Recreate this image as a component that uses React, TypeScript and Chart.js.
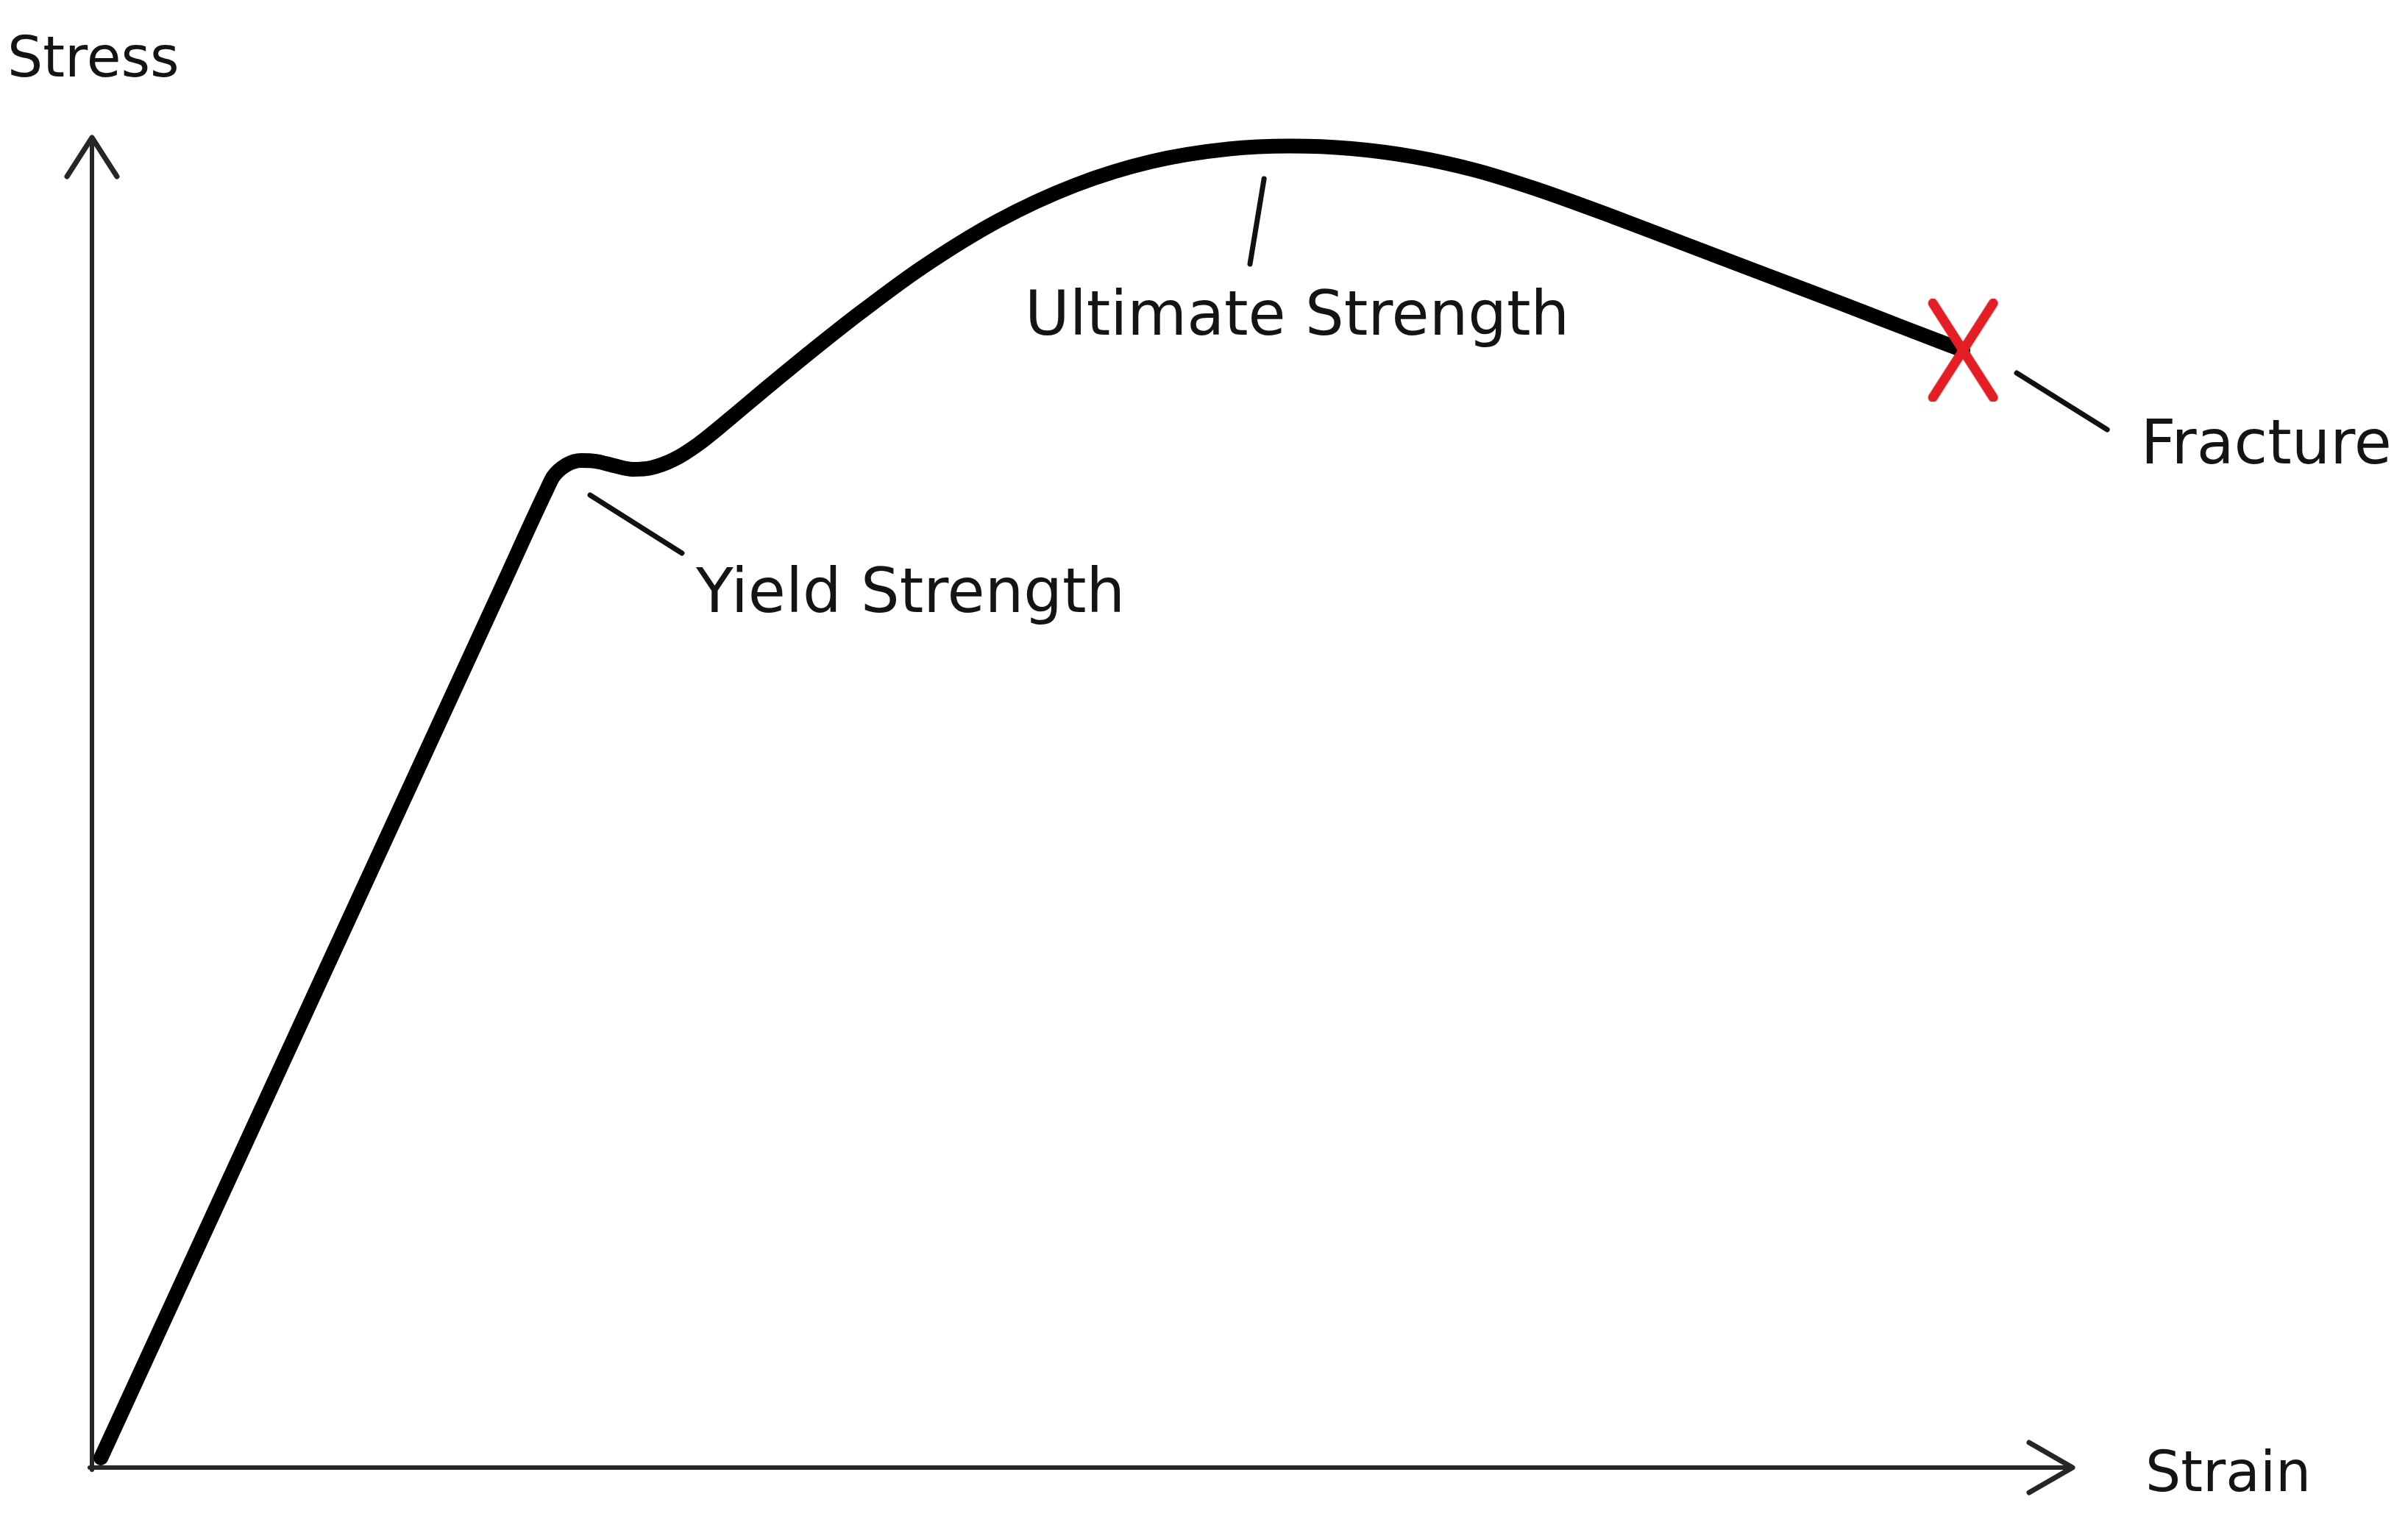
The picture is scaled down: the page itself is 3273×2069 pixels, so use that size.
import React, { useEffect, useRef } from "react";
import { Chart, registerables } from "chart.js";

Chart.register(...registerables);

// ---- Data (relative units: 0..100 on each axis) ----
const strainValues = [
  0.45, 11.68, 20.67, 22.92, 23.29, 23.96, 24.7, 25.45, 26.37, 27.3, 28.23, 29.35, 30.65,
  32.27, 34.13, 36.45, 38.78, 41.88, 45.76, 49.64, 53.51, 57.39, 60.49, 63.59, 66.69,
  69.8, 72.9, 76.78, 80.65, 84.53, 88.41, 91.51, 94.47,
];
const stressValues = [
  0.72, 37.06, 66.13, 73.4, 74.5, 75.39, 75.72, 75.66, 75.33, 75.06, 75.17, 75.77, 76.99,
  78.94, 81.26, 84.09, 86.82, 90.2, 93.75, 96.42, 98.2, 99.14, 99.36, 99.17, 98.57,
  97.56, 96.14, 94.06, 91.87, 89.67, 87.48, 85.69, 84.0,
];

const fractureStrain = [94.47];
const fractureStress = [84.0];

const pointLabels = ["Yield Strength", "Ultimate Strength", "Fracture"];
const leaderFromStrain = [25.15, 59.18, 97.18];
const leaderFromStress = [73.12, 96.9, 82.3];
const leaderToStrain = [29.79, 58.47, 101.75];
const leaderToStress = [68.75, 90.49, 78.04];
const labelStrain = [30.5, 47.1, 103.45];
const labelStress = [64.32, 85.18, 75.5];

const axisTitles = ["Stress", "Strain"];
const axisTitleStrain = [-4.27, 103.68];
const axisTitleStress = [104.6, -1.77];

// ---- Styles ----
const W = 3273;
const H = 2069;
const LABEL_FONT = "83px 'DejaVu Sans', Verdana, sans-serif";
const TITLE_FONT = "76px 'DejaVu Sans', Verdana, sans-serif";
const TEXT_COLOR = "#141414";
const AXIS_COLOR = "#262626";

function makeCross(): HTMLCanvasElement {
  const c = document.createElement("canvas");
  c.width = 100;
  c.height = 140;
  const g = c.getContext("2d")!;
  g.strokeStyle = "#e31e24";
  g.lineWidth = 13;
  g.lineCap = "round";
  g.beginPath();
  g.moveTo(9, 6);
  g.lineTo(91, 134);
  g.moveTo(91, 6);
  g.lineTo(9, 134);
  g.stroke();
  return c;
}

const diagramPlugin = {
  id: "diagram",
  beforeDatasetsDraw(chart: any) {
    const { ctx, scales } = chart;
    const xs = scales.x;
    const ys = scales.y;
    const x0 = xs.getPixelForValue(0);
    const y0 = ys.getPixelForValue(0);
    const xEnd = xs.getPixelForValue(100);
    const yEnd = ys.getPixelForValue(100);
    ctx.save();
    ctx.strokeStyle = AXIS_COLOR;
    ctx.lineWidth = 6;
    ctx.lineCap = "round";
    ctx.lineJoin = "round";
    ctx.beginPath();
    ctx.moveTo(x0, y0 + 3);
    ctx.lineTo(x0, yEnd);
    ctx.moveTo(x0 - 3, y0);
    ctx.lineTo(xEnd, y0);
    ctx.stroke();
    ctx.lineWidth = 7;
    ctx.beginPath();
    ctx.moveTo(x0 - 34, yEnd + 53);
    ctx.lineTo(x0, yEnd);
    ctx.lineTo(x0 + 34, yEnd + 53);
    ctx.stroke();
    ctx.beginPath();
    ctx.moveTo(xEnd - 59, y0 - 34);
    ctx.lineTo(xEnd, y0);
    ctx.lineTo(xEnd - 59, y0 + 34);
    ctx.stroke();
    ctx.restore();
  },
  afterDatasetsDraw(chart: any) {
    const { ctx, scales } = chart;
    const xs = scales.x;
    const ys = scales.y;
    ctx.save();
    ctx.fillStyle = TEXT_COLOR;
    ctx.textAlign = "left";
    ctx.textBaseline = "alphabetic";
    ctx.font = LABEL_FONT;
    pointLabels.forEach((t, i) => {
      ctx.fillText(t, xs.getPixelForValue(labelStrain[i]), ys.getPixelForValue(labelStress[i]));
    });
    ctx.font = TITLE_FONT;
    axisTitles.forEach((t, i) => {
      ctx.fillText(t, xs.getPixelForValue(axisTitleStrain[i]), ys.getPixelForValue(axisTitleStress[i]));
    });
    ctx.restore();
  },
};

export default function App() {
  const ref = useRef<HTMLCanvasElement | null>(null);

  useEffect(() => {
    const canvas = ref.current;
    if (!canvas) return;
    const curve = strainValues.map((x, i) => ({ x, y: stressValues[i] }));
    const leaderSets = pointLabels.map((label, i) => ({
      label: label + " leader",
      data: [
        { x: leaderFromStrain[i], y: leaderFromStress[i] },
        { x: leaderToStrain[i], y: leaderToStress[i] },
      ],
      showLine: true,
      borderColor: "#111111",
      borderWidth: 7,
      pointRadius: 0,
      borderCapStyle: "round" as const,
      clip: false as any,
      order: 1,
    }));
    const chart = new Chart(canvas, {
      type: "scatter",
      data: {
        datasets: [
          {
            label: "Fracture",
            data: fractureStrain.map((x, i) => ({ x, y: fractureStress[i] })),
            pointStyle: makeCross() as any,
            pointRadius: 50,
            clip: false as any,
            order: 0,
          },
          ...leaderSets,
          {
            label: "Stress-strain curve",
            data: curve,
            showLine: true,
            borderColor: "#000000",
            borderWidth: 20,
            pointRadius: 0,
            cubicInterpolationMode: "monotone",
            borderCapStyle: "round",
            borderJoinStyle: "round",
            clip: false as any,
            order: 2,
          } as any,
        ],
      },
      options: {
        animation: false,
        responsive: false,
        devicePixelRatio: 1,
        events: [],
        layout: { padding: { left: 125, top: 187, right: W - 2817, bottom: H - 1995 } },
        plugins: { legend: { display: false }, tooltip: { enabled: false }, title: { display: false } },
        scales: {
          x: { type: "linear", min: 0, max: 100, display: false },
          y: { type: "linear", min: 0, max: 100, display: false },
        },
      },
      plugins: [diagramPlugin],
    });
    return () => chart.destroy();
  }, []);

  return (
    <div style={{ position: "fixed", left: 0, top: 0, width: W, height: H, background: "#ffffff" }}>
      <canvas ref={ref} width={W} height={H} style={{ width: W, height: H, display: "block" }} />
    </div>
  );
}
